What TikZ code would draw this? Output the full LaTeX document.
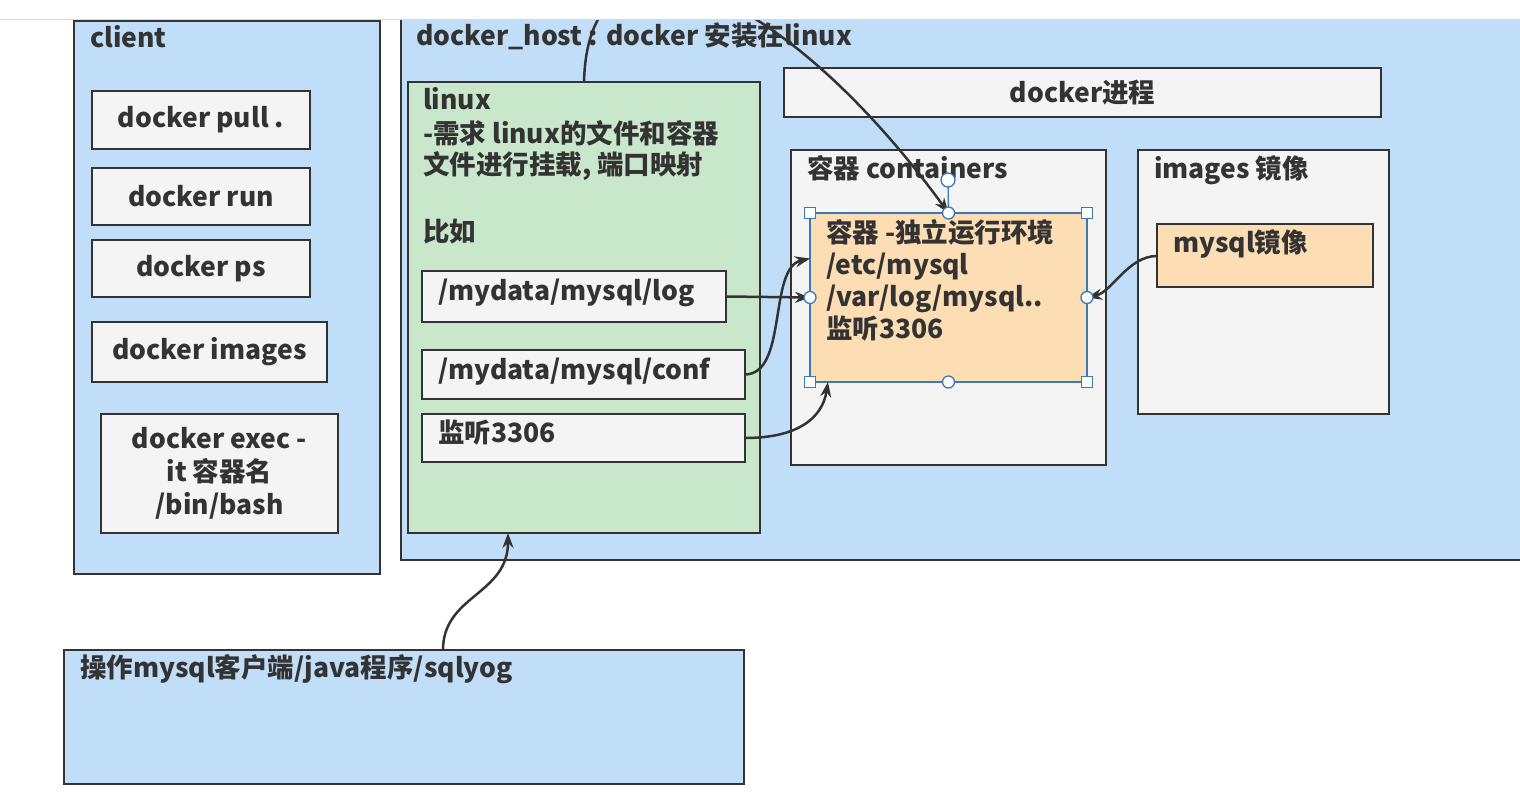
\documentclass[tikz,border=0pt]{standalone}
\usepackage{fontspec}
\setmainfont{Noto Sans CJK SC}
\usetikzlibrary{arrows.meta,calc}
\definecolor{bluef}{RGB}{192,222,248}
\definecolor{greenf}{RGB}{201,231,202}
\definecolor{grayf}{RGB}{244,244,244}
\definecolor{orangef}{RGB}{252,221,180}
\definecolor{edge}{RGB}{51,51,51}
\definecolor{sel}{RGB}{58,120,184}
\definecolor{txt}{RGB}{51,51,51}
\begin{document}
\begin{tikzpicture}[x=1pt,y=-1pt,
  every node/.style={font=\fontsize{26.5}{33}\selectfont\bfseries, text=txt},
  frame/.style={draw=edge, line width=2.2pt, anchor=north west, inner sep=0pt, outer sep=0pt},
  bluebox/.style={frame, fill=bluef},
  greenbox/.style={frame, fill=greenf},
  graybox/.style={frame, fill=grayf},
  orangebox/.style={frame, fill=orangef},
  lbl/.style={anchor=base west, inner sep=0pt, outer sep=0pt},
  conn/.style={draw=edge, line width=2.5pt, -{Stealth[length=15pt,width=11pt]}},
  hsq/.style={draw=sel, fill=white, line width=1.3pt, minimum size=11pt, inner sep=0pt},
  hci/.style={circle, draw=sel, fill=white, line width=1.3pt, minimum size=12pt, inner sep=0pt}
]
\useasboundingbox (0,0) rectangle (1520,803);
\fill[white] (0,0) rectangle (1520,803);
\draw[black!15, line width=1pt] (0,19.5) -- (1520,19.5);

\begin{scope}
\clip (0,20) rectangle (1520,803);
% docker host
\node[bluebox, minimum width=1140, minimum height=550] (host) at (401,10) {};
\end{scope}
\node[lbl] (hostt) at (416,45) {docker\_host : docker 安装在linux};

% client
\node[bluebox, minimum width=306, minimum height=553] (client) at (74,21) {};
\node[lbl] (clientt) at (90,47) {client};
\node[graybox, minimum width=218, minimum height=58] (pull) at (92,91) {docker pull .};
\node[graybox, minimum width=218, minimum height=57] (run) at (92,168) {docker run};
\node[graybox, minimum width=218, minimum height=57] (ps) at (92,240) {docker ps};
\node[graybox, minimum width=235, minimum height=60] (imgs) at (92,322) {docker images};
\node[graybox, minimum width=237, minimum height=119, align=center] (exec) at (101,414) {docker exec -\\it 容器名\\/bin/bash};

% linux
\node[greenbox, minimum width=352, minimum height=451] (linux) at (408,82) {};
\node[lbl] (l1) at (423,109) {linux};
\node[lbl] (l2) at (423,143) {-需求 linux的文件和容器};
\node[lbl] (l3) at (423,174) {文件进行挂载, 端口映射};
\node[lbl] (l4) at (423,241) {比如};
\node[graybox, minimum width=304, minimum height=51] (log) at (422,271) {};
\node[lbl] (logt) at (438,300) {/mydata/mysql/log};
\node[graybox, minimum width=323, minimum height=49] (conf) at (422,350) {};
\node[lbl] (conft) at (438,379) {/mydata/mysql/conf};
\node[graybox, minimum width=323, minimum height=48] (port) at (422,414) {};
\node[lbl] (portt) at (438,442) {监听3306};

% docker process
\node[graybox, minimum width=597, minimum height=49] (proc) at (784,68) {docker进程};

% containers
\node[graybox, minimum width=315, minimum height=315] (conts) at (791,150) {};
\node[lbl] (contst) at (807,178) {容器 containers};
\node[orangebox, draw=sel, minimum width=277, minimum height=169] (cont) at (810,213) {};
\node[lbl] (c1) at (826,242) {容器 -独立运行环境};
\node[lbl] (c2) at (826,274) {/etc/mysql};
\node[lbl] (c3) at (826,306) {/var/log/mysql..};
\node[lbl] (c4) at (826,338) {监听3306};

% images
\node[graybox, minimum width=251, minimum height=264] (images) at (1138,150) {};
\node[lbl] (imagest) at (1154,178) {images 镜像};
\node[orangebox, minimum width=216, minimum height=63] (mimg) at (1157,224) {};
\node[lbl] (mimgt) at (1173,252) {mysql镜像};

% bottom client box
\node[bluebox, minimum width=680, minimum height=134] (bot) at (64,650) {};
\node[lbl] (bott) at (80,677) {操作mysql客户端/java程序/sqlyog};

% connectors
\draw[conn] (log.east) -- (cont.west);
\draw[conn] (conf.east) .. controls (788,374) and (768,268) .. ([yshift=39pt]cont.west);
\draw[conn] (port.east) .. controls (795,438) and (822,420) .. ([xshift=18pt]cont.south west);
\draw[conn] (mimg.west |- 0,256) .. controls (1128,256) and (1112,292) .. (cont.east);
\draw[conn] ([xshift=39pt]bot.north) .. controls (443,595) and (508,595) .. ([xshift=-76pt]linux.south);
\begin{scope}
\clip (0,20) rectangle (1520,803);
\draw[conn] (linux.north) .. controls (588,-90) and (775,-25) .. (cont.north);
\end{scope}

% selection handles
\draw[sel, line width=1.3pt] (cont.north) -- (948,180);
\node[hci, minimum size=14pt] (rot) at (948,180) {};
\node[hsq] (h1) at (cont.north west) {};
\node[hsq] (h2) at (cont.north east) {};
\node[hsq] (h3) at (cont.south west) {};
\node[hsq] (h4) at (cont.south east) {};
\node[hci] (h5) at (cont.north) {};
\node[hci] (h6) at (cont.south) {};
\node[hci] (h7) at (cont.west) {};
\node[hci] (h8) at (cont.east) {};
\end{tikzpicture}
\end{document}
